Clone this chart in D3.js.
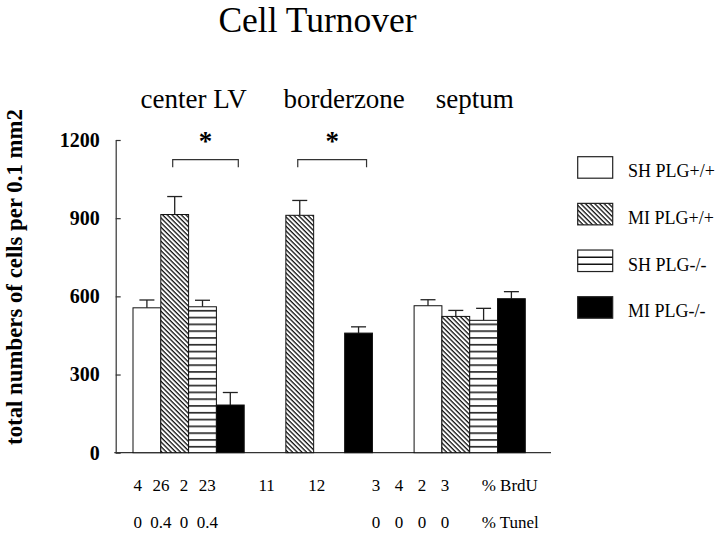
<!DOCTYPE html>
<html>
<head>
<meta charset="utf-8">
<script src="https://cdn.jsdelivr.net/npm/d3@7"></script>
<style>
  html, body { margin: 0; padding: 0; background: #fff; }
  svg { display: block; }
  svg text { font-family: "Liberation Serif", "DejaVu Serif", serif; }
</style>
</head>
<body>
<script>
// ---------------- DATA ----------------
const categories = ["center LV", "borderzone", "septum"];
const seriesNames = ["SH PLG+/+", "MI PLG+/+", "SH PLG-/-", "MI PLG-/-"];
// mean values per category (null = not measured)
const shPlgWT  = [556, null, 564];
const miPlgWT  = [914, 911, 523];
const shPlgKO  = [560, null, 508];
const miPlgKO  = [183, 459, 591];
// upper error (SEM) per category
const shPlgWTErr = [30, null, 23];
const miPlgWTErr = [69, 57, 23];
const shPlgKOErr = [25, null, 46];
const miPlgKOErr = [48, 24, 27];
const yTicks = [0, 300, 600, 900, 1200];
// significance brackets
const sigCategories = ["center LV", "borderzone"];
const sigFrom = "MI PLG+/+";
const sigTo = "MI PLG-/-";
// table below the chart
const brduCenter = ["4", "26", "2", "23"];
const brduBorder = ["11", "12"];
const brduSeptum = ["3", "4", "2", "3"];
const tunelCenter = ["0", "0.4", "0", "0.4"];
const tunelBorder = [];
const tunelSeptum = ["0", "0", "0", "0"];
const rowNames = ["% BrdU", "% Tunel"];

// ---------------- LAYOUT ----------------
const W = 720, H = 536;
const serif = "Liberation Serif, DejaVu Serif, serif";
const values = {
  "SH PLG+/+": shPlgWT, "MI PLG+/+": miPlgWT, "SH PLG-/-": shPlgKO, "MI PLG-/-": miPlgKO
};
const errors = {
  "SH PLG+/+": shPlgWTErr, "MI PLG+/+": miPlgWTErr, "SH PLG-/-": shPlgKOErr, "MI PLG-/-": miPlgKOErr
};

const svg = d3.select("body").append("svg")
  .attr("width", W).attr("height", H)
  .attr("font-family", serif)
  .style("background", "#fff");

const defs = svg.append("defs");
// diagonal hatch "\\\\"
const hatch = defs.append("pattern")
  .attr("id", "hatch").attr("patternUnits", "userSpaceOnUse")
  .attr("width", 3.3).attr("height", 3.3)
  .attr("patternTransform", "rotate(45)");
hatch.append("rect").attr("width", 3.3).attr("height", 3.3).attr("fill", "#fff");
hatch.append("rect").attr("width", 3.3).attr("height", 1.3).attr("fill", "#111");

const y = d3.scaleLinear().domain([0, 1200]).range([452.7, 140]);

// horizontal stripes aligned to baseline
const stripes = defs.append("pattern")
  .attr("id", "stripes").attr("patternUnits", "userSpaceOnUse")
  .attr("x", 0).attr("y", y(0))
  .attr("width", 10).attr("height", 6.8);
stripes.append("rect").attr("width", 10).attr("height", 6.8).attr("fill", "#fff");
stripes.append("rect").attr("y", 0.1).attr("width", 10).attr("height", 1.5).attr("fill", "#111");

const fills = {
  "SH PLG+/+": "#fff", "MI PLG+/+": "url(#hatch)", "SH PLG-/-": "url(#stripes)", "MI PLG-/-": "#000"
};

const gx = d3.scalePoint().domain(categories).range([188.6, 469.7]);
const bw = 27.8, sparseGap = 31;

function innerScale(cat) {
  const ci = categories.indexOf(cat);
  const present = seriesNames.filter(s => values[s][ci] != null);
  const n = present.length;
  const full = n === seriesNames.length;
  const width = full ? n * bw : n * bw + (n - 1) * sparseGap;
  const c = gx(cat);
  return d3.scaleBand().domain(present)
    .range([c - width / 2, c + width / 2])
    .paddingInner(full ? 0 : sparseGap / (bw + sparseGap));
}

const bars = [];
categories.forEach((cat, ci) => {
  const inner = innerScale(cat);
  seriesNames.forEach(s => {
    const v = values[s][ci];
    if (v == null) return;
    bars.push({ cat, s, v, e: errors[s][ci], x: inner(s), w: inner.bandwidth() });
  });
});

function txt(sel, size, weight) {
  return sel.attr("font-family", serif).attr("font-size", size).attr("font-weight", weight || "normal");
}

// title
txt(svg.append("text"), 35.5)
  .attr("x", 317.5).attr("y", 31.5)
  .attr("text-anchor", "middle")
  .text("Cell Turnover");

// category labels (slightly right of the bar groups, as in the original)
const labelShift = { "center LV": 5, "borderzone": 15, "septum": 5 };
txt(svg.append("g").selectAll("text").data(categories).join("text"), 27)
  .attr("x", d => gx(d) + labelShift[d]).attr("y", 108.3)
  .attr("text-anchor", "middle")
  .text(d => d);

// y axis
const axisX = 115.7;
const ax = svg.append("g").attr("transform", `translate(${axisX},0)`)
  .call(d3.axisLeft(y).tickValues(yTicks).tickSizeInner(-5).tickSizeOuter(0)
    .tickPadding(16).tickFormat(d3.format("d")));
ax.attr("font-family", serif).attr("font-size", 20).attr("font-weight", "bold");
ax.select(".domain").attr("stroke", "#333").attr("stroke-width", 1.2);
ax.selectAll(".tick line").attr("stroke", "#333").attr("stroke-width", 1.2);
ax.selectAll(".tick text").attr("fill", "#000");

// baseline
svg.append("line")
  .attr("x1", axisX - 1.4).attr("x2", 551)
  .attr("y1", y(0)).attr("y2", y(0))
  .attr("stroke", "#333").attr("stroke-width", 1.2);

// y label
txt(svg.append("text"), 22.8, "bold")
  .attr("transform", `translate(22,277) rotate(-90)`)
  .attr("text-anchor", "middle")
  .text("total numbers of cells per 0.1 mm2");

// error bars
const eg = svg.append("g").attr("stroke", "#222").attr("stroke-width", 1.3);
bars.forEach(b => {
  const cx = b.x + b.w / 2;
  eg.append("line").attr("x1", cx).attr("x2", cx).attr("y1", y(b.v)).attr("y2", y(b.v + b.e));
  eg.append("line").attr("x1", cx - 7.5).attr("x2", cx + 7.5).attr("y1", y(b.v + b.e)).attr("y2", y(b.v + b.e));
});

// bars
svg.append("g").selectAll("rect").data(bars).join("rect")
  .attr("x", d => d.x).attr("width", d => d.w)
  .attr("y", d => y(d.v)).attr("height", d => y(0) - y(d.v))
  .attr("fill", d => fills[d.s])
  .attr("stroke", "#111").attr("stroke-width", 1);

// significance brackets
sigCategories.forEach(cat => {
  const inner = innerScale(cat);
  const x1 = inner(sigFrom) + inner.bandwidth() / 2 - 2;
  const x2 = inner(sigTo) + inner.bandwidth() / 2 + 8;
  const yb = y(1125), yt = y(1095);
  svg.append("path")
    .attr("d", `M${x1},${yt}V${yb}H${x2}V${yt}`)
    .attr("fill", "none").attr("stroke", "#333").attr("stroke-width", 1.2);
  txt(svg.append("text"), 27, "bold")
    .attr("x", (x1 + x2) / 2).attr("y", y(1125) - 10)
    .attr("text-anchor", "middle")
    .text("*");
});

// legend
const ly = d3.scalePoint().domain(seriesNames).range([156.7, 296.7]);
const lg = svg.append("g");
seriesNames.forEach(s => {
  const top = ly(s);
  lg.append("rect")
    .attr("x", 577.7).attr("y", top).attr("width", 35).attr("height", 21.5)
    .attr("fill", s === "SH PLG-/-" ? "#fff" : fills[s])
    .attr("stroke", "#222").attr("stroke-width", 1.2);
  if (s === "SH PLG-/-") {
    [1, 2].forEach(k => lg.append("line")
      .attr("x1", 577.7).attr("x2", 612.7)
      .attr("y1", top + k * 21.5 / 3).attr("y2", top + k * 21.5 / 3)
      .attr("stroke", "#111").attr("stroke-width", 1.5));
  }
  txt(lg.append("text"), 18)
    .attr("x", 628).attr("y", top + 20.5)
    .text(s);
});

// table below
const tableStart = { "center LV": 137.7, "borderzone": 266.7, "septum": 376 };
const tableStep = { "center LV": 23.2, "borderzone": 50, "septum": 23 };
const rows = [
  [brduCenter, brduBorder, brduSeptum],
  [tunelCenter, tunelBorder, tunelSeptum]
];
const rowY = [491.3, 528];
const tg = svg.append("g");
rows.forEach((row, ri) => {
  row.forEach((labels, ci) => {
    const cat = categories[ci];
    labels.forEach((t, i) => {
      txt(tg.append("text"), 17)
        .attr("x", tableStart[cat] + i * tableStep[cat]).attr("y", rowY[ri])
        .attr("text-anchor", "middle")
        .text(t);
    });
  });
  txt(tg.append("text"), 17).attr("x", 481.7).attr("y", rowY[ri]).text(rowNames[ri]);
});
</script>
</body>
</html>
